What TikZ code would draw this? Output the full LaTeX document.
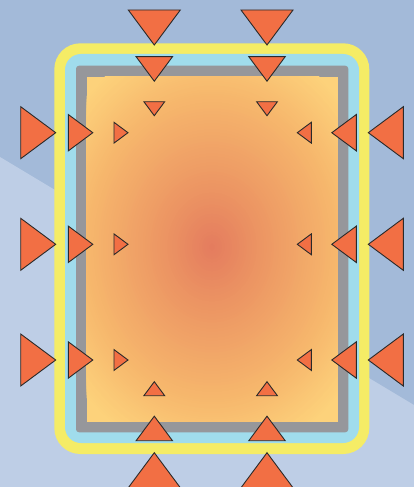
\documentclass[tikz,border=0pt]{standalone}
\usetikzlibrary{calc}
\definecolor{bgdark}{HTML}{A3BAD9}
\definecolor{bglight}{HTML}{BECEE6}
\definecolor{ringyellow}{HTML}{F5EC66}
\definecolor{ringblue}{HTML}{A0DCEC}
\definecolor{ringgray}{HTML}{96979B}
\definecolor{trifill}{HTML}{F26F44}
\definecolor{tristroke}{HTML}{2A2A2A}
\definecolor{gC}{HTML}{E47B5E}
\definecolor{gA}{HTML}{EC9563}
\definecolor{gB}{HTML}{F6B66C}
\definecolor{gE}{HTML}{FDD27B}
\tikzset{
  tri/.pic={\draw[fill=trifill,draw=tristroke,line width=0.9pt,line join=miter] (0,-26) -- (35,0) -- (0,26) -- cycle;},
  big/.style={scale=1},
  mid/.style={scale=0.7},
  sml/.style={scale=0.4},
  pdown/.style={rotate=-90},
  pup/.style={rotate=90},
  pleft/.style={rotate=180},
  pright/.style={rotate=0}
}
\begin{document}
\begin{tikzpicture}[x=1pt,y=-1pt]
\useasboundingbox (0,0) rectangle (414,487);
% background
\fill[bgdark] (0,0) rectangle (414,487);
\fill[bglight] (0,157) -- (414,405) -- (414,487) -- (0,487) -- cycle;
% frame layers
\fill[ringyellow,rounded corners=26pt] (54.3,43.3) rectangle (369.3,454);
\fill[ringblue,rounded corners=16pt] (65,54) rectangle (359,443);
\fill[ringgray,rounded corners=3pt] (76,65.7) rectangle (348.3,432.3);
\fill[gE] (86.7,76.7) rectangle (337.7,421.7);
\begin{scope}
  \clip (86.7,76.7) rectangle (337.7,421.7);
  \foreach \i in {30,29,...,1}{
    \pgfmathsetmacro\f{0.7+0.3*\i/30}
    \pgfmathtruncatemacro\p{\i*100/30}
    \fill[gE!\p!gB] (212,247) ellipse ({176*\f} and {215*\f});
  }
  \foreach \i in {30,29,...,1}{
    \pgfmathsetmacro\f{0.28+0.42*\i/30}
    \pgfmathtruncatemacro\p{\i*100/30}
    \fill[gB!\p!gA] (212,247) ellipse ({176*\f} and {215*\f});
  }
  \foreach \i in {20,19,...,1}{
    \pgfmathsetmacro\f{0.28*\i/20}
    \pgfmathtruncatemacro\p{\i*5}
    \fill[gA!\p!gC] (212,247) ellipse ({176*\f} and {215*\f});
  }
\end{scope}
% top and bottom triangles
\foreach \x in {154.3,267}{
  \pic[pdown,big] at (\x,10) {tri};
  \pic[pdown,mid] at (\x,56.7) {tri};
  \pic[pdown,sml] at (\x,101.7) {tri};
  \pic[pup,sml] at (\x,395.7) {tri};
  \pic[pup,mid] at (\x,440.7) {tri};
  \pic[pup,big] at (\x,487.7) {tri};
}
% side triangles
\foreach \y in {132.7,244.3,360}{
  \pic[pright,big] at (20.7,\y) {tri};
  \pic[pright,mid] at (68.3,\y) {tri};
  \pic[pright,sml] at (114,\y) {tri};
  \pic[pleft,big] at (403.3,\y) {tri};
  \pic[pleft,mid] at (356.3,\y) {tri};
  \pic[pleft,sml] at (311.3,\y) {tri};
}
\end{tikzpicture}
\end{document}
